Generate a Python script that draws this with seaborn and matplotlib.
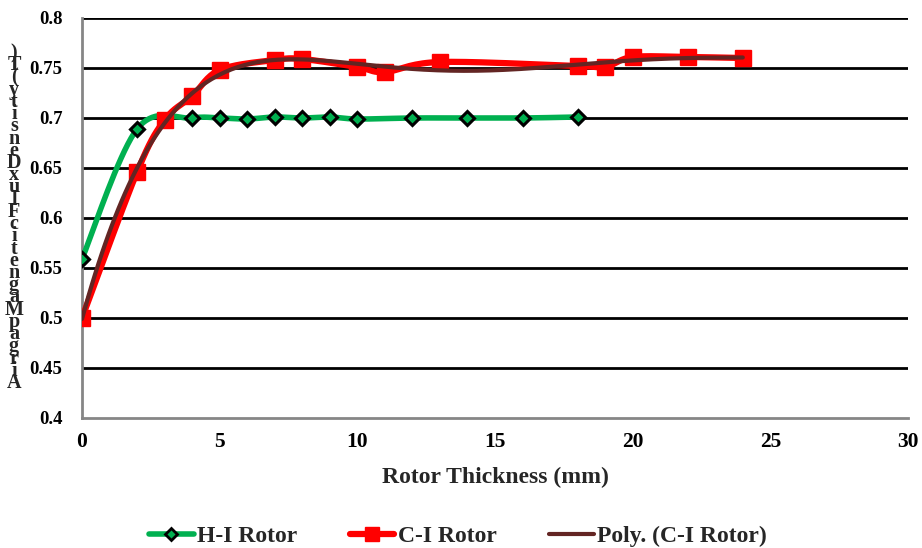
import numpy as np
import pandas as pd
import matplotlib
matplotlib.use("Agg")
import matplotlib.pyplot as plt
from matplotlib.lines import Line2D
import seaborn as sns

# ---- data ----
hi_x = [0, 2, 4, 5, 6, 7, 8, 9, 10, 12, 14, 16, 18]
hi_y = [0.559, 0.689, 0.700, 0.700, 0.699, 0.701, 0.700, 0.701, 0.699, 0.700, 0.700, 0.700, 0.701]
ci_x = [0, 2, 3, 4, 5, 7, 8, 10, 11, 13, 18, 19, 20, 22, 24]
ci_y = [0.500, 0.646, 0.698, 0.722, 0.748, 0.758, 0.759, 0.751, 0.746, 0.756, 0.752, 0.751, 0.761, 0.761, 0.760]
x_ticks = [0, 5, 10, 15, 20, 25, 30]
y_ticks = [0.4, 0.45, 0.5, 0.55, 0.6, 0.65, 0.7, 0.75, 0.8]
x_label = "Rotor Thickness (mm)"
y_label = "Air gap Magnetic Flux Density (T)"
names = ["H-I Rotor", "C-I Rotor", "Poly. (C-I Rotor)"]

GREEN = "#00B050"
RED = "#FF0000"
BROWN = "#632523"
GREY = "#868686"


def smooth(xs, ys, n=20):
    """Catmull-Rom (Excel-style smoothed line) through the given points."""
    xs = np.asarray(xs, float)
    ys = np.asarray(ys, float)
    P = np.column_stack([xs, ys])
    P = np.vstack([P[0], P, P[-1]])
    out = []
    t = np.linspace(0, 1, n)[:, None]
    for i in range(1, len(P) - 2):
        p0, p1, p2, p3 = P[i - 1], P[i], P[i + 1], P[i + 2]
        c1 = p1 + (p2 - p0) / 6
        c2 = p2 - (p3 - p1) / 6
        seg = ((1 - t) ** 3) * p1 + 3 * ((1 - t) ** 2) * t * c1 + 3 * (1 - t) * t ** 2 * c2 + t ** 3 * p2
        out.append(seg if i == 1 else seg[1:])
    S = np.vstack(out)
    return S[:, 0], S[:, 1]


sns.set_theme(style="white")
plt.rcParams["font.family"] = ["Liberation Serif", "DejaVu Serif"]
plt.rcParams["font.weight"] = "bold"

fig = plt.figure(figsize=(9.22, 5.48), dpi=100)
ax = fig.add_axes([82 / 922, 1 - 418 / 548, (908 - 82) / 922, 400 / 548])

for v in y_ticks[1:]:
    ax.axhline(v, color="black", lw=2.0, zorder=1)

hx, hy = smooth(hi_x, hi_y)
cx, cy = smooth(ci_x, ci_y)
coef = np.polyfit(ci_x, ci_y, 6)
px = np.linspace(min(ci_x), max(ci_x), 200)
py = np.polyval(coef, px)

sns.lineplot(x=hx, y=hy, ax=ax, color=GREEN, lw=4.0, sort=False, zorder=3, solid_capstyle="round")
ax.plot(hi_x, hi_y, ls="none", marker="D", ms=7, mfc=GREEN, mec="black", mew=2.2, zorder=4)
sns.lineplot(x=cx, y=cy, ax=ax, color=RED, lw=4.5, sort=False, zorder=5, solid_capstyle="round")
ax.plot(ci_x, ci_y, ls="none", marker="s", ms=12, mfc=RED, mec=RED, zorder=6)
sns.lineplot(x=px, y=py, ax=ax, color=BROWN, lw=3.0, sort=False, zorder=7, solid_capstyle="round")

ax.set_xlim(0, 30)
ax.set_ylim(0.4, 0.8)
ax.set_xticks(x_ticks)
ax.set_yticks(y_ticks)
ax.set_xticklabels([f"{v:g}" for v in x_ticks])
ax.set_yticklabels([f"{v:g}" for v in y_ticks])
for s in ["top", "right"]:
    ax.spines[s].set_visible(False)
for s in ["left", "bottom"]:
    ax.spines[s].set_color(GREY)
    ax.spines[s].set_linewidth(2.0)
    ax.spines[s].set_zorder(2)
ax.tick_params(axis="both", which="major", direction="out", length=5, width=2,
               color=GREY, labelcolor="black")
ax.tick_params(axis="x", labelsize=15.5, pad=5)
ax.tick_params(axis="y", labelsize=13.5, pad=9)
for lab in ax.get_xticklabels() + ax.get_yticklabels():
    lab.set_fontweight("bold")
ax.grid(False)
ax.set_xlabel(x_label, fontsize=17, fontweight="bold", labelpad=11)
ax.set_ylabel("")

# stacked (vertical, reversed) y-axis label
chars = [c for c in y_label if c != " "]
y_top, y_bot = 53, 383
step = (y_bot - y_top) / (len(chars) - 1)
for i, ch in enumerate(reversed(chars)):
    fig.text(14 / 922, 1 - (y_top + i * step) / 548, ch, ha="center", va="center",
             fontsize=14.5, fontweight="bold")

handles = [
    Line2D([], [], color=GREEN, lw=4, marker="D", ms=6, mfc=GREEN, mec="black", mew=2),
    Line2D([], [], color=RED, lw=4.5, marker="s", ms=10, mfc=RED, mec=RED),
    Line2D([], [], color=BROWN, lw=3),
]
fig.legend(handles, names, loc="center", bbox_to_anchor=(458 / 922, 1 - 536 / 548), ncol=3,
           frameon=False, prop={"size": 17, "weight": "bold"}, handlelength=1.9,
           columnspacing=2.2, handletextpad=0.15)

fig.savefig("out.png", dpi=100)
